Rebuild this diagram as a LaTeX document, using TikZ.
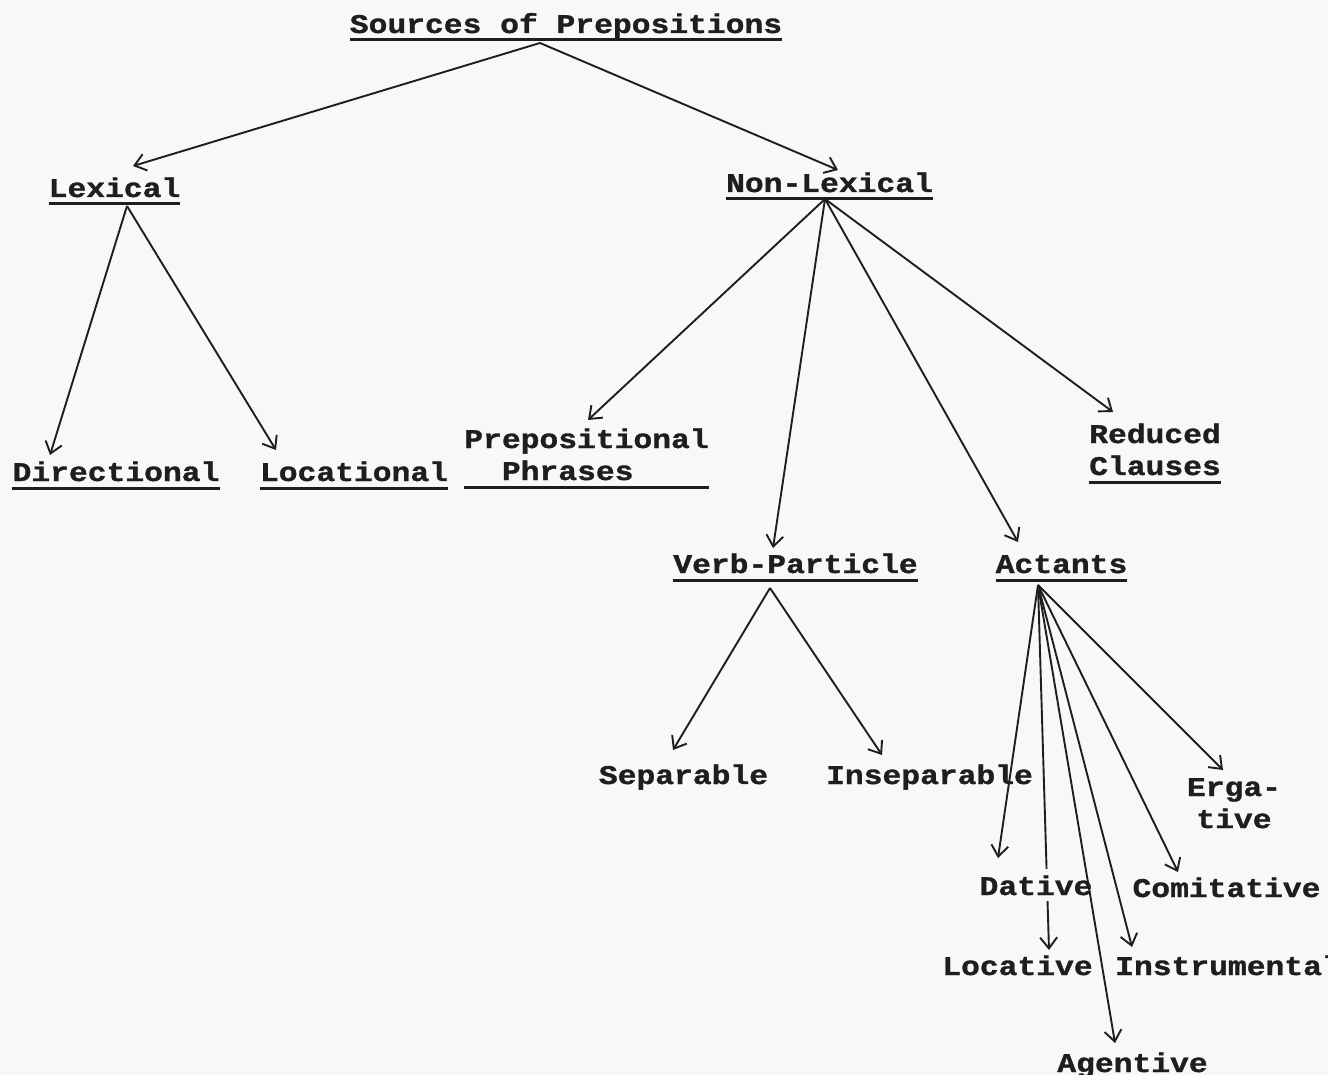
\documentclass[tikz,border=0pt]{standalone}
\usepackage{fontspec}
\newfontfamily\tw[FakeStretch=1.16,FakeBold=1.2]{Liberation Mono}
\usetikzlibrary{arrows.meta}
\definecolor{paper}{RGB}{248,248,246}
\definecolor{ink}{RGB}{30,30,30}
\begin{document}
\begin{tikzpicture}[x=1pt,y=-1pt,
  lbl/.style={font=\tw\bfseries\fontsize{27}{32}\selectfont, text=ink, inner sep=0pt, anchor=base},
  arr/.style={draw=ink, line width=1.9pt, -{Straight Barb[length=11pt,width=17pt,line width=1.9pt]}},
  ul/.style={draw=ink, line width=3pt}]
\useasboundingbox (0,0) rectangle (1328,1075);
\fill[paper] (0,0) rectangle (1328,1075);

% nodes
\node[lbl] (title) at (566,33) {Sources of Prepositions};
\node[lbl] (lex) at (114.5,197) {Lexical};
\node[lbl] (nonlex) at (829.5,192) {Non-Lexical};
\node[lbl] (dir) at (116,481) {Directional};
\node[lbl] (loc) at (354,481) {Locational};
\node[lbl] (pp) at (586.5,480) {\begin{tabular}[b]{@{}l@{}}Prepositional\\\phantom{Pr}Phrases\end{tabular}};
\node[lbl] (rc) at (1155,475) {\begin{tabular}[b]{@{}l@{}}Reduced\\Clauses\end{tabular}};
\node[lbl] (vp) at (795.5,573) {Verb-Particle};
\node[lbl] (act) at (1061.5,573) {Actants};
\node[lbl] (sep) at (683.5,784) {Separable};
\node[lbl] (insep) at (929.5,784) {Inseparable};
\node[lbl] (erg) at (1234,828) {\begin{tabular}[b]{@{}c@{}}Erga-\\tive\end{tabular}};
\node[lbl] (com) at (1226.5,897) {Comitative};
\node[lbl] (locv) at (1017.5,975) {Locative};
\node[lbl, anchor=base west] (instr) at (1115,975) {Instrumental};
\node[lbl] (agt) at (1132.5,1072) {Agentive};

% underlines
\foreach \n in {title,lex,nonlex,dir,loc,pp,rc,vp,act}
  \draw[ul] ([yshift=-7pt]\n.base west) -- ([yshift=-7pt]\n.base east);

% arrow hidden behind Dative
\draw[arr] ([shift={(-23.5,12)}]act.base) -- ([shift={(31.5,-25)}]locv.base);
\node[lbl, fill=paper, inner ysep=6pt] (dat) at (1036,895) {Dative};

% top level
\draw[arr] ([shift={(-26,10)}]title.base) -- ([shift={(18.5,-31)}]lex.base);
\draw[arr] ([shift={(-26,10)}]title.base) -- ([shift={(8.5,-22)}]nonlex.base);
% lexical
\draw[arr] ([shift={(12.5,9)}]lex.base) -- ([shift={(-66,-26)}]dir.base);
\draw[arr] ([shift={(12.5,9)}]lex.base) -- ([shift={(-78,-31)}]loc.base);
% non-lexical
\draw[arr] ([shift={(-4.5,7)}]nonlex.base) -- ([shift={(1.5,-60)}]pp.base);
\draw[arr] ([shift={(-4.5,7)}]nonlex.base) -- ([shift={(-22.5,-25)}]vp.base);
\draw[arr] ([shift={(-4.5,7)}]nonlex.base) -- ([shift={(-43.5,-31)}]act.base);
\draw[arr] ([shift={(-4.5,7)}]nonlex.base) -- ([shift={(-42,-63)}]rc.base);
% verb-particle
\draw[arr] ([shift={(-25.5,15)}]vp.base) -- ([shift={(-10.5,-34)}]sep.base);
\draw[arr] ([shift={(-25.5,15)}]vp.base) -- ([shift={(-47.5,-29)}]insep.base);
% actants
\draw[arr] ([shift={(-23.5,12)}]act.base) -- ([shift={(-38,-37)}]dat.base);
\draw[arr] ([shift={(-23.5,12)}]act.base) -- ([shift={(-17.5,-29)}]agt.base);
\draw[arr] ([shift={(-23.5,12)}]act.base) -- ([shift={(17,-28)}]instr.base west);
\draw[arr] ([shift={(-23.5,12)}]act.base) -- ([shift={(-48.5,-25)}]com.base);
\draw[arr] ([shift={(-23.5,12)}]act.base) -- ([shift={(-11,-58)}]erg.base);
\end{tikzpicture}
\end{document}
